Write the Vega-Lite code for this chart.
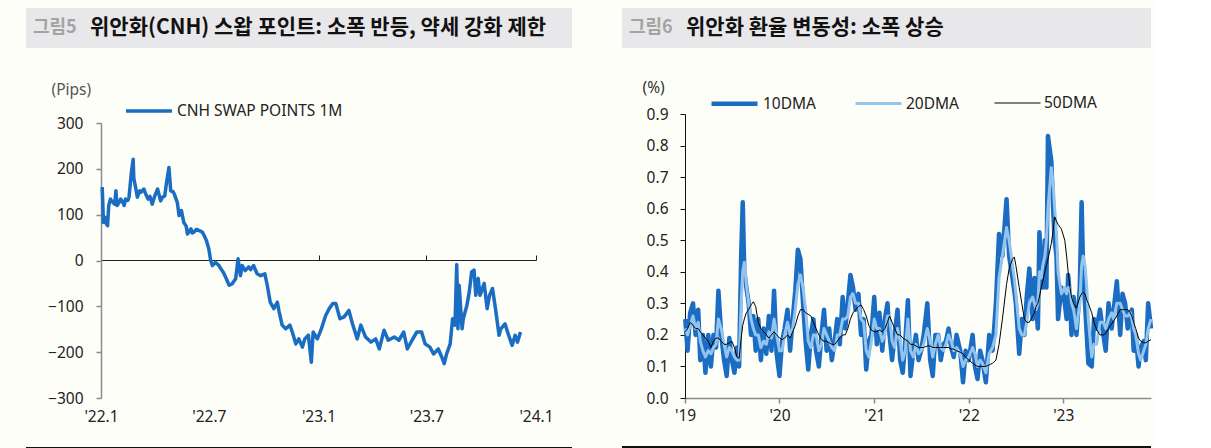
{
  "$schema": "https://vega.github.io/schema/vega-lite/v6.json",
  "background": "#fefef8",
  "padding": {"left": 26, "top": 8, "right": 0, "bottom": 0},
  "config": {
    "view": {"stroke": null},
    "font": "Noto Sans",
    "axis": {"labelFont": "Noto Sans", "labelFontSize": 15.5, "labelColor": "#222222", "grid": false, "titleFont": "Noto Sans", "titleFontWeight": "normal"},
    "legend": {"labelFont": "Noto Sans", "labelColor": "#222222", "labelLimit": 300}
  },
  "datasets": {
    "cnh": [
      {"d": "2022-01-03", "v": 160}, {"d": "2022-01-04", "v": 127}, {"d": "2022-01-05", "v": 83}, {"d": "2022-01-07", "v": 95},
      {"d": "2022-01-10", "v": 80}, {"d": "2022-01-12", "v": 76}, {"d": "2022-01-14", "v": 120}, {"d": "2022-01-17", "v": 134},
      {"d": "2022-01-20", "v": 128}, {"d": "2022-01-24", "v": 123}, {"d": "2022-01-26", "v": 152}, {"d": "2022-01-28", "v": 120},
      {"d": "2022-02-01", "v": 128}, {"d": "2022-02-03", "v": 134}, {"d": "2022-02-07", "v": 126}, {"d": "2022-02-09", "v": 120},
      {"d": "2022-02-11", "v": 134}, {"d": "2022-02-15", "v": 131}, {"d": "2022-02-17", "v": 138}, {"d": "2022-02-21", "v": 192},
      {"d": "2022-02-24", "v": 221}, {"d": "2022-02-25", "v": 180}, {"d": "2022-02-28", "v": 160}, {"d": "2022-03-03", "v": 138},
      {"d": "2022-03-07", "v": 152}, {"d": "2022-03-09", "v": 149}, {"d": "2022-03-14", "v": 156}, {"d": "2022-03-17", "v": 145},
      {"d": "2022-03-21", "v": 134}, {"d": "2022-03-24", "v": 140}, {"d": "2022-03-28", "v": 123}, {"d": "2022-04-01", "v": 140},
      {"d": "2022-04-06", "v": 156}, {"d": "2022-04-11", "v": 130}, {"d": "2022-04-14", "v": 138}, {"d": "2022-04-18", "v": 141},
      {"d": "2022-04-21", "v": 170}, {"d": "2022-04-25", "v": 203}, {"d": "2022-04-28", "v": 152}, {"d": "2022-05-02", "v": 150},
      {"d": "2022-05-04", "v": 145}, {"d": "2022-05-09", "v": 127}, {"d": "2022-05-12", "v": 98}, {"d": "2022-05-16", "v": 109},
      {"d": "2022-05-18", "v": 95}, {"d": "2022-05-20", "v": 83}, {"d": "2022-05-24", "v": 75}, {"d": "2022-05-26", "v": 58},
      {"d": "2022-06-01", "v": 69}, {"d": "2022-06-03", "v": 60}, {"d": "2022-06-06", "v": 62}, {"d": "2022-06-10", "v": 68},
      {"d": "2022-06-15", "v": 65}, {"d": "2022-06-20", "v": 62}, {"d": "2022-06-23", "v": 55}, {"d": "2022-06-27", "v": 43},
      {"d": "2022-07-01", "v": 25}, {"d": "2022-07-04", "v": 0}, {"d": "2022-07-07", "v": -11}, {"d": "2022-07-12", "v": -4},
      {"d": "2022-07-18", "v": -11}, {"d": "2022-07-21", "v": -18}, {"d": "2022-07-25", "v": -25}, {"d": "2022-07-29", "v": -36},
      {"d": "2022-08-04", "v": -54}, {"d": "2022-08-09", "v": -51}, {"d": "2022-08-15", "v": -40}, {"d": "2022-08-19", "v": 4},
      {"d": "2022-08-23", "v": -33}, {"d": "2022-08-26", "v": -11}, {"d": "2022-08-31", "v": -22}, {"d": "2022-09-06", "v": -14},
      {"d": "2022-09-09", "v": -20}, {"d": "2022-09-14", "v": -11}, {"d": "2022-09-20", "v": -29}, {"d": "2022-09-26", "v": -33},
      {"d": "2022-10-03", "v": -29}, {"d": "2022-10-07", "v": -54}, {"d": "2022-10-12", "v": -91}, {"d": "2022-10-18", "v": -105},
      {"d": "2022-10-24", "v": -91}, {"d": "2022-10-27", "v": -112}, {"d": "2022-11-01", "v": -141}, {"d": "2022-11-07", "v": -149},
      {"d": "2022-11-14", "v": -141}, {"d": "2022-11-18", "v": -156}, {"d": "2022-11-24", "v": -182}, {"d": "2022-11-29", "v": -171},
      {"d": "2022-12-05", "v": -189}, {"d": "2022-12-09", "v": -171}, {"d": "2022-12-15", "v": -163}, {"d": "2022-12-20", "v": -222},
      {"d": "2022-12-23", "v": -156}, {"d": "2022-12-30", "v": -171}, {"d": "2023-01-05", "v": -152}, {"d": "2023-01-13", "v": -120},
      {"d": "2023-01-19", "v": -105}, {"d": "2023-01-25", "v": -94}, {"d": "2023-01-30", "v": -94}, {"d": "2023-02-06", "v": -127},
      {"d": "2023-02-13", "v": -123}, {"d": "2023-02-21", "v": -109}, {"d": "2023-02-27", "v": -138}, {"d": "2023-03-07", "v": -171},
      {"d": "2023-03-13", "v": -141}, {"d": "2023-03-21", "v": -167}, {"d": "2023-03-30", "v": -178}, {"d": "2023-04-07", "v": -171},
      {"d": "2023-04-13", "v": -193}, {"d": "2023-04-21", "v": -152}, {"d": "2023-04-28", "v": -174}, {"d": "2023-05-08", "v": -167},
      {"d": "2023-05-16", "v": -174}, {"d": "2023-05-24", "v": -156}, {"d": "2023-05-30", "v": -193}, {"d": "2023-06-07", "v": -174},
      {"d": "2023-06-15", "v": -156}, {"d": "2023-06-23", "v": -156}, {"d": "2023-06-29", "v": -182}, {"d": "2023-07-07", "v": -189},
      {"d": "2023-07-13", "v": -204}, {"d": "2023-07-21", "v": -193}, {"d": "2023-07-27", "v": -211}, {"d": "2023-07-31", "v": -225},
      {"d": "2023-08-04", "v": -204}, {"d": "2023-08-10", "v": -182}, {"d": "2023-08-14", "v": -127}, {"d": "2023-08-18", "v": -141},
      {"d": "2023-08-21", "v": -9}, {"d": "2023-08-23", "v": -149}, {"d": "2023-08-25", "v": -54}, {"d": "2023-08-30", "v": -149},
      {"d": "2023-09-01", "v": -127}, {"d": "2023-09-07", "v": -98}, {"d": "2023-09-11", "v": -69}, {"d": "2023-09-15", "v": -25},
      {"d": "2023-09-19", "v": -21}, {"d": "2023-09-22", "v": -76}, {"d": "2023-09-26", "v": -39}, {"d": "2023-09-29", "v": -76},
      {"d": "2023-10-06", "v": -50}, {"d": "2023-10-11", "v": -105}, {"d": "2023-10-15", "v": -76}, {"d": "2023-10-20", "v": -61},
      {"d": "2023-10-25", "v": -105}, {"d": "2023-10-31", "v": -163}, {"d": "2023-11-03", "v": -149}, {"d": "2023-11-10", "v": -138},
      {"d": "2023-11-16", "v": -163}, {"d": "2023-11-22", "v": -185}, {"d": "2023-11-27", "v": -163}, {"d": "2023-12-01", "v": -178},
      {"d": "2023-12-06", "v": -156}
    ],
    "vol": [
      {"d": "2019-01-02", "10DMA": 0.25, "20DMA": 0.22, "50DMA": 0.21},
      {"d": "2019-01-11", "10DMA": 0.15, "20DMA": 0.2, "50DMA": 0.22},
      {"d": "2019-01-21", "10DMA": 0.27, "20DMA": 0.23, "50DMA": 0.24},
      {"d": "2019-02-01", "10DMA": 0.3, "20DMA": 0.26, "50DMA": 0.23},
      {"d": "2019-02-11", "10DMA": 0.2, "20DMA": 0.22, "50DMA": 0.22},
      {"d": "2019-02-21", "10DMA": 0.28, "20DMA": 0.24, "50DMA": 0.22},
      {"d": "2019-03-01", "10DMA": 0.12, "20DMA": 0.18, "50DMA": 0.21},
      {"d": "2019-03-11", "10DMA": 0.2, "20DMA": 0.15, "50DMA": 0.2},
      {"d": "2019-03-21", "10DMA": 0.08, "20DMA": 0.13, "50DMA": 0.19},
      {"d": "2019-04-01", "10DMA": 0.2, "20DMA": 0.15, "50DMA": 0.18},
      {"d": "2019-04-11", "10DMA": 0.1, "20DMA": 0.14, "50DMA": 0.16},
      {"d": "2019-04-21", "10DMA": 0.2, "20DMA": 0.16, "50DMA": 0.18},
      {"d": "2019-05-01", "10DMA": 0.16, "20DMA": 0.17, "50DMA": 0.19},
      {"d": "2019-05-10", "10DMA": 0.34, "20DMA": 0.25, "50DMA": 0.19},
      {"d": "2019-05-21", "10DMA": 0.2, "20DMA": 0.22, "50DMA": 0.18},
      {"d": "2019-06-01", "10DMA": 0.12, "20DMA": 0.17, "50DMA": 0.17},
      {"d": "2019-06-11", "10DMA": 0.07, "20DMA": 0.13, "50DMA": 0.17},
      {"d": "2019-06-21", "10DMA": 0.19, "20DMA": 0.16, "50DMA": 0.175},
      {"d": "2019-07-01", "10DMA": 0.12, "20DMA": 0.15, "50DMA": 0.18},
      {"d": "2019-07-11", "10DMA": 0.08, "20DMA": 0.13, "50DMA": 0.16},
      {"d": "2019-07-21", "10DMA": 0.16, "20DMA": 0.12, "50DMA": 0.13},
      {"d": "2019-07-29", "10DMA": 0.1, "20DMA": 0.12, "50DMA": 0.125},
      {"d": "2019-08-06", "10DMA": 0.45, "20DMA": 0.3, "50DMA": 0.19},
      {"d": "2019-08-12", "10DMA": 0.62, "20DMA": 0.4, "50DMA": 0.23},
      {"d": "2019-08-18", "10DMA": 0.4, "20DMA": 0.43, "50DMA": 0.25},
      {"d": "2019-08-26", "10DMA": 0.35, "20DMA": 0.36, "50DMA": 0.27},
      {"d": "2019-09-04", "10DMA": 0.3, "20DMA": 0.3, "50DMA": 0.28},
      {"d": "2019-09-13", "10DMA": 0.2, "20DMA": 0.25, "50DMA": 0.295},
      {"d": "2019-09-22", "10DMA": 0.26, "20DMA": 0.22, "50DMA": 0.305},
      {"d": "2019-10-01", "10DMA": 0.15, "20DMA": 0.2, "50DMA": 0.29},
      {"d": "2019-10-11", "10DMA": 0.25, "20DMA": 0.2, "50DMA": 0.24},
      {"d": "2019-10-21", "10DMA": 0.12, "20DMA": 0.16, "50DMA": 0.22},
      {"d": "2019-11-01", "10DMA": 0.22, "20DMA": 0.18, "50DMA": 0.21},
      {"d": "2019-11-11", "10DMA": 0.14, "20DMA": 0.17, "50DMA": 0.2},
      {"d": "2019-11-21", "10DMA": 0.26, "20DMA": 0.21, "50DMA": 0.19},
      {"d": "2019-12-01", "10DMA": 0.15, "20DMA": 0.19, "50DMA": 0.2},
      {"d": "2019-12-11", "10DMA": 0.34, "20DMA": 0.25, "50DMA": 0.21},
      {"d": "2019-12-21", "10DMA": 0.14, "20DMA": 0.2, "50DMA": 0.2},
      {"d": "2020-01-01", "10DMA": 0.07, "20DMA": 0.15, "50DMA": 0.19},
      {"d": "2020-01-11", "10DMA": 0.18, "20DMA": 0.15, "50DMA": 0.185},
      {"d": "2020-01-21", "10DMA": 0.22, "20DMA": 0.2, "50DMA": 0.19},
      {"d": "2020-02-01", "10DMA": 0.28, "20DMA": 0.24, "50DMA": 0.2},
      {"d": "2020-02-11", "10DMA": 0.15, "20DMA": 0.2, "50DMA": 0.19},
      {"d": "2020-02-21", "10DMA": 0.25, "20DMA": 0.22, "50DMA": 0.21},
      {"d": "2020-03-02", "10DMA": 0.34, "20DMA": 0.28, "50DMA": 0.23},
      {"d": "2020-03-12", "10DMA": 0.47, "20DMA": 0.36, "50DMA": 0.26},
      {"d": "2020-03-22", "10DMA": 0.44, "20DMA": 0.39, "50DMA": 0.28},
      {"d": "2020-04-01", "10DMA": 0.3, "20DMA": 0.35, "50DMA": 0.28},
      {"d": "2020-04-11", "10DMA": 0.18, "20DMA": 0.28, "50DMA": 0.27},
      {"d": "2020-04-21", "10DMA": 0.09, "20DMA": 0.18, "50DMA": 0.265},
      {"d": "2020-05-01", "10DMA": 0.2, "20DMA": 0.16, "50DMA": 0.26},
      {"d": "2020-05-11", "10DMA": 0.25, "20DMA": 0.2, "50DMA": 0.24},
      {"d": "2020-05-21", "10DMA": 0.15, "20DMA": 0.2, "50DMA": 0.22},
      {"d": "2020-06-01", "10DMA": 0.1, "20DMA": 0.15, "50DMA": 0.2},
      {"d": "2020-06-11", "10DMA": 0.2, "20DMA": 0.17, "50DMA": 0.185},
      {"d": "2020-06-21", "10DMA": 0.28, "20DMA": 0.22, "50DMA": 0.18},
      {"d": "2020-07-01", "10DMA": 0.15, "20DMA": 0.2, "50DMA": 0.18},
      {"d": "2020-07-11", "10DMA": 0.22, "20DMA": 0.18, "50DMA": 0.175},
      {"d": "2020-07-21", "10DMA": 0.12, "20DMA": 0.16, "50DMA": 0.17},
      {"d": "2020-08-01", "10DMA": 0.18, "20DMA": 0.15, "50DMA": 0.17},
      {"d": "2020-08-11", "10DMA": 0.25, "20DMA": 0.2, "50DMA": 0.18},
      {"d": "2020-08-21", "10DMA": 0.17, "20DMA": 0.2, "50DMA": 0.19},
      {"d": "2020-09-01", "10DMA": 0.32, "20DMA": 0.25, "50DMA": 0.2},
      {"d": "2020-09-11", "10DMA": 0.22, "20DMA": 0.25, "50DMA": 0.2},
      {"d": "2020-09-21", "10DMA": 0.3, "20DMA": 0.26, "50DMA": 0.22},
      {"d": "2020-10-01", "10DMA": 0.39, "20DMA": 0.32, "50DMA": 0.25},
      {"d": "2020-10-11", "10DMA": 0.35, "20DMA": 0.33, "50DMA": 0.27},
      {"d": "2020-10-21", "10DMA": 0.28, "20DMA": 0.3, "50DMA": 0.28},
      {"d": "2020-11-01", "10DMA": 0.33, "20DMA": 0.3, "50DMA": 0.29},
      {"d": "2020-11-11", "10DMA": 0.2, "20DMA": 0.25, "50DMA": 0.295},
      {"d": "2020-11-21", "10DMA": 0.25, "20DMA": 0.24, "50DMA": 0.28},
      {"d": "2020-12-01", "10DMA": 0.09, "20DMA": 0.15, "50DMA": 0.26},
      {"d": "2020-12-11", "10DMA": 0.18, "20DMA": 0.13, "50DMA": 0.23},
      {"d": "2020-12-21", "10DMA": 0.2, "20DMA": 0.18, "50DMA": 0.215},
      {"d": "2021-01-01", "10DMA": 0.32, "20DMA": 0.25, "50DMA": 0.21},
      {"d": "2021-01-11", "10DMA": 0.17, "20DMA": 0.22, "50DMA": 0.21},
      {"d": "2021-01-21", "10DMA": 0.27, "20DMA": 0.22, "50DMA": 0.215},
      {"d": "2021-02-01", "10DMA": 0.15, "20DMA": 0.18, "50DMA": 0.21},
      {"d": "2021-02-11", "10DMA": 0.25, "20DMA": 0.2, "50DMA": 0.22},
      {"d": "2021-02-21", "10DMA": 0.3, "20DMA": 0.26, "50DMA": 0.24},
      {"d": "2021-03-01", "10DMA": 0.2, "20DMA": 0.26, "50DMA": 0.26},
      {"d": "2021-03-11", "10DMA": 0.12, "20DMA": 0.18, "50DMA": 0.24},
      {"d": "2021-03-21", "10DMA": 0.2, "20DMA": 0.16, "50DMA": 0.22},
      {"d": "2021-04-01", "10DMA": 0.28, "20DMA": 0.22, "50DMA": 0.2},
      {"d": "2021-04-11", "10DMA": 0.12, "20DMA": 0.18, "50DMA": 0.2},
      {"d": "2021-04-21", "10DMA": 0.08, "20DMA": 0.12, "50DMA": 0.19},
      {"d": "2021-05-01", "10DMA": 0.18, "20DMA": 0.15, "50DMA": 0.185},
      {"d": "2021-05-11", "10DMA": 0.31, "20DMA": 0.25, "50DMA": 0.18},
      {"d": "2021-05-21", "10DMA": 0.07, "20DMA": 0.15, "50DMA": 0.17},
      {"d": "2021-06-01", "10DMA": 0.15, "20DMA": 0.13, "50DMA": 0.17},
      {"d": "2021-06-11", "10DMA": 0.2, "20DMA": 0.17, "50DMA": 0.165},
      {"d": "2021-06-21", "10DMA": 0.12, "20DMA": 0.14, "50DMA": 0.16},
      {"d": "2021-07-01", "10DMA": 0.15, "20DMA": 0.15, "50DMA": 0.16},
      {"d": "2021-07-11", "10DMA": 0.2, "20DMA": 0.17, "50DMA": 0.16},
      {"d": "2021-07-25", "10DMA": 0.3, "20DMA": 0.22, "50DMA": 0.165},
      {"d": "2021-08-05", "10DMA": 0.12, "20DMA": 0.18, "50DMA": 0.165},
      {"d": "2021-08-15", "10DMA": 0.07, "20DMA": 0.13, "50DMA": 0.16},
      {"d": "2021-08-25", "10DMA": 0.2, "20DMA": 0.17, "50DMA": 0.16},
      {"d": "2021-09-05", "10DMA": 0.2, "20DMA": 0.2, "50DMA": 0.16},
      {"d": "2021-09-15", "10DMA": 0.12, "20DMA": 0.16, "50DMA": 0.16},
      {"d": "2021-09-25", "10DMA": 0.17, "20DMA": 0.15, "50DMA": 0.16},
      {"d": "2021-10-05", "10DMA": 0.18, "20DMA": 0.17, "50DMA": 0.16},
      {"d": "2021-10-15", "10DMA": 0.22, "20DMA": 0.2, "50DMA": 0.16},
      {"d": "2021-10-25", "10DMA": 0.16, "20DMA": 0.18, "50DMA": 0.155},
      {"d": "2021-11-04", "10DMA": 0.13, "20DMA": 0.15, "50DMA": 0.155},
      {"d": "2021-11-15", "10DMA": 0.2, "20DMA": 0.16, "50DMA": 0.15},
      {"d": "2021-11-29", "10DMA": 0.15, "20DMA": 0.14, "50DMA": 0.145},
      {"d": "2021-12-10", "10DMA": 0.05, "20DMA": 0.1, "50DMA": 0.14},
      {"d": "2021-12-20", "10DMA": 0.15, "20DMA": 0.12, "50DMA": 0.13},
      {"d": "2022-01-01", "10DMA": 0.12, "20DMA": 0.13, "50DMA": 0.12},
      {"d": "2022-01-16", "10DMA": 0.2, "20DMA": 0.16, "50DMA": 0.11},
      {"d": "2022-01-25", "10DMA": 0.1, "20DMA": 0.14, "50DMA": 0.105},
      {"d": "2022-02-04", "10DMA": 0.06, "20DMA": 0.1, "50DMA": 0.1},
      {"d": "2022-02-14", "10DMA": 0.15, "20DMA": 0.12, "50DMA": 0.1},
      {"d": "2022-02-23", "10DMA": 0.12, "20DMA": 0.11, "50DMA": 0.1},
      {"d": "2022-03-08", "10DMA": 0.05, "20DMA": 0.08, "50DMA": 0.1},
      {"d": "2022-03-21", "10DMA": 0.2, "20DMA": 0.14, "50DMA": 0.105},
      {"d": "2022-04-03", "10DMA": 0.15, "20DMA": 0.16, "50DMA": 0.11},
      {"d": "2022-04-16", "10DMA": 0.3, "20DMA": 0.2, "50DMA": 0.12},
      {"d": "2022-04-28", "10DMA": 0.52, "20DMA": 0.38, "50DMA": 0.17},
      {"d": "2022-05-11", "10DMA": 0.45, "20DMA": 0.45, "50DMA": 0.25},
      {"d": "2022-05-27", "10DMA": 0.63, "20DMA": 0.54, "50DMA": 0.36},
      {"d": "2022-06-06", "10DMA": 0.45, "20DMA": 0.5, "50DMA": 0.41},
      {"d": "2022-06-19", "10DMA": 0.38, "20DMA": 0.42, "50DMA": 0.44},
      {"d": "2022-06-26", "10DMA": 0.34, "20DMA": 0.38, "50DMA": 0.447},
      {"d": "2022-07-02", "10DMA": 0.3, "20DMA": 0.33, "50DMA": 0.42},
      {"d": "2022-07-15", "10DMA": 0.14, "20DMA": 0.22, "50DMA": 0.35},
      {"d": "2022-07-25", "10DMA": 0.25, "20DMA": 0.2, "50DMA": 0.3},
      {"d": "2022-08-04", "10DMA": 0.2, "20DMA": 0.2, "50DMA": 0.25},
      {"d": "2022-08-13", "10DMA": 0.32, "20DMA": 0.24, "50DMA": 0.24},
      {"d": "2022-08-23", "10DMA": 0.41, "20DMA": 0.3, "50DMA": 0.24},
      {"d": "2022-09-05", "10DMA": 0.25, "20DMA": 0.32, "50DMA": 0.26},
      {"d": "2022-09-12", "10DMA": 0.38, "20DMA": 0.3, "50DMA": 0.27},
      {"d": "2022-09-18", "10DMA": 0.3, "20DMA": 0.28, "50DMA": 0.29},
      {"d": "2022-09-25", "10DMA": 0.22, "20DMA": 0.3, "50DMA": 0.3},
      {"d": "2022-10-01", "10DMA": 0.525, "20DMA": 0.4, "50DMA": 0.32},
      {"d": "2022-10-08", "10DMA": 0.4, "20DMA": 0.38, "50DMA": 0.35},
      {"d": "2022-10-14", "10DMA": 0.35, "20DMA": 0.42, "50DMA": 0.37},
      {"d": "2022-10-22", "10DMA": 0.5, "20DMA": 0.45, "50DMA": 0.4},
      {"d": "2022-10-28", "10DMA": 0.35, "20DMA": 0.5, "50DMA": 0.42},
      {"d": "2022-11-03", "10DMA": 0.83, "20DMA": 0.6, "50DMA": 0.44},
      {"d": "2022-11-16", "10DMA": 0.75, "20DMA": 0.73, "50DMA": 0.49},
      {"d": "2022-11-23", "10DMA": 0.6, "20DMA": 0.68, "50DMA": 0.53},
      {"d": "2022-11-29", "10DMA": 0.5, "20DMA": 0.6, "50DMA": 0.574},
      {"d": "2022-12-06", "10DMA": 0.45, "20DMA": 0.52, "50DMA": 0.56},
      {"d": "2022-12-12", "10DMA": 0.25, "20DMA": 0.4, "50DMA": 0.55},
      {"d": "2022-12-25", "10DMA": 0.35, "20DMA": 0.33, "50DMA": 0.535},
      {"d": "2023-01-07", "10DMA": 0.3, "20DMA": 0.35, "50DMA": 0.5},
      {"d": "2023-01-14", "10DMA": 0.25, "20DMA": 0.33, "50DMA": 0.45},
      {"d": "2023-01-20", "10DMA": 0.39, "20DMA": 0.35, "50DMA": 0.4},
      {"d": "2023-01-27", "10DMA": 0.32, "20DMA": 0.35, "50DMA": 0.35},
      {"d": "2023-02-02", "10DMA": 0.2, "20DMA": 0.3, "50DMA": 0.32},
      {"d": "2023-02-10", "10DMA": 0.32, "20DMA": 0.28, "50DMA": 0.3},
      {"d": "2023-02-21", "10DMA": 0.2, "20DMA": 0.22, "50DMA": 0.285},
      {"d": "2023-03-06", "10DMA": 0.35, "20DMA": 0.3, "50DMA": 0.32},
      {"d": "2023-03-13", "10DMA": 0.62, "20DMA": 0.42, "50DMA": 0.33},
      {"d": "2023-03-19", "10DMA": 0.4, "20DMA": 0.45, "50DMA": 0.335},
      {"d": "2023-03-26", "10DMA": 0.3, "20DMA": 0.42, "50DMA": 0.33},
      {"d": "2023-04-02", "10DMA": 0.2, "20DMA": 0.35, "50DMA": 0.31},
      {"d": "2023-04-08", "10DMA": 0.11, "20DMA": 0.25, "50DMA": 0.3},
      {"d": "2023-04-21", "10DMA": 0.1, "20DMA": 0.13, "50DMA": 0.27},
      {"d": "2023-04-30", "10DMA": 0.25, "20DMA": 0.17, "50DMA": 0.24},
      {"d": "2023-05-10", "10DMA": 0.22, "20DMA": 0.17, "50DMA": 0.217},
      {"d": "2023-05-23", "10DMA": 0.28, "20DMA": 0.24, "50DMA": 0.2},
      {"d": "2023-06-05", "10DMA": 0.2, "20DMA": 0.24, "50DMA": 0.2},
      {"d": "2023-06-14", "10DMA": 0.15, "20DMA": 0.22, "50DMA": 0.205},
      {"d": "2023-06-25", "10DMA": 0.3, "20DMA": 0.25, "50DMA": 0.22},
      {"d": "2023-07-07", "10DMA": 0.22, "20DMA": 0.27, "50DMA": 0.235},
      {"d": "2023-07-15", "10DMA": 0.28, "20DMA": 0.25, "50DMA": 0.245},
      {"d": "2023-07-27", "10DMA": 0.37, "20DMA": 0.3, "50DMA": 0.26},
      {"d": "2023-08-09", "10DMA": 0.2, "20DMA": 0.3, "50DMA": 0.28},
      {"d": "2023-08-18", "10DMA": 0.33, "20DMA": 0.28, "50DMA": 0.28},
      {"d": "2023-08-28", "10DMA": 0.3, "20DMA": 0.26, "50DMA": 0.28},
      {"d": "2023-09-07", "10DMA": 0.22, "20DMA": 0.26, "50DMA": 0.28},
      {"d": "2023-09-17", "10DMA": 0.27, "20DMA": 0.27, "50DMA": 0.27},
      {"d": "2023-09-23", "10DMA": 0.28, "20DMA": 0.25, "50DMA": 0.26},
      {"d": "2023-09-30", "10DMA": 0.15, "20DMA": 0.22, "50DMA": 0.24},
      {"d": "2023-10-08", "10DMA": 0.2, "20DMA": 0.2, "50DMA": 0.22},
      {"d": "2023-10-19", "10DMA": 0.1, "20DMA": 0.14, "50DMA": 0.19},
      {"d": "2023-10-27", "10DMA": 0.16, "20DMA": 0.12, "50DMA": 0.18},
      {"d": "2023-11-08", "10DMA": 0.18, "20DMA": 0.15, "50DMA": 0.175},
      {"d": "2023-11-16", "10DMA": 0.12, "20DMA": 0.17, "50DMA": 0.175},
      {"d": "2023-11-25", "10DMA": 0.3, "20DMA": 0.22, "50DMA": 0.18},
      {"d": "2023-12-06", "10DMA": 0.22, "20DMA": 0.25, "50DMA": 0.185}
    ]
  },
  "spacing": 50,
  "resolve": {
    "scale": {"color": "independent", "strokeWidth": "independent"},
    "legend": {"color": "independent", "strokeWidth": "independent"}
  },
  "hconcat": [
    {
      "spacing": 34,
      "resolve": {"scale": {"color": "independent"}, "legend": {"color": "independent"}},
      "vconcat": [
        {
          "width": 546,
          "height": 40,
          "view": {"fill": "#e8e8ea", "stroke": null},
          "data": {"values": [{"n": "그림5", "t": "위안화(CNH) 스왑 포인트: 소폭 반등, 약세 강화 제한"}]},
          "layer": [
            {
              "mark": {"type": "text", "align": "left", "baseline": "middle", "font": "Noto Sans CJK KR", "fontSize": 18, "fontWeight": "bold", "color": "#a3a3a3"},
              "encoding": {"text": {"field": "n"}, "x": {"value": 7}, "y": {"value": 20}}
            },
            {
              "mark": {"type": "text", "align": "left", "baseline": "middle", "font": "Noto Sans CJK KR", "fontSize": 21, "fontWeight": "bold", "color": "#111111"},
              "encoding": {"text": {"field": "t"}, "x": {"value": 64}, "y": {"value": 20}}
            }
          ]
        },
        {
          "spacing": 17,
          "resolve": {"scale": {"color": "independent"}, "legend": {"color": "independent"}},
          "vconcat": [
            {
              "spacing": 0,
              "resolve": {"scale": {"color": "independent"}, "legend": {"color": "independent"}},
              "hconcat": [
                {
                  "width": 21,
                  "height": 2,
                  "data": {"values": [{}]},
                  "mark": {"type": "text", "text": ""},
                  "encoding": {}
                },
                {
                  "width": 435,
                  "height": 275,
                  "data": {"name": "cnh"},
                  "layer": [
                    {
                      "mark": {"type": "line", "strokeWidth": 3.5, "strokeJoin": "round"},
                      "encoding": {
                        "x": {
                          "field": "d", "type": "temporal",
                          "scale": {"type": "utc", "nice": false, "domain": [{"year": 2022, "month": 1, "date": 1, "utc": true}, {"year": 2024, "month": 1, "date": 1, "utc": true}]},
                          "axis": {"format": "'%y.%-m", "tickCount": {"interval": "month", "step": 6}, "domain": false, "ticks": false, "labelPadding": 11, "labelFlush": false, "title": null}
                        },
                        "y": {
                          "field": "v", "type": "quantitative",
                          "scale": {"domain": [-300, 300], "nice": false},
                          "axis": {
                            "values": [-300, -200, -100, 0, 100, 200, 300],
                            "domainColor": "#8a8a8a", "domainWidth": 1.5, "tickColor": "#8a8a8a", "tickWidth": 1.5, "tickSize": 5, "labelPadding": 13,
                            "title": "(Pips)", "titleAngle": 0, "titleX": -50, "titleY": -34, "titleAlign": "left", "titleBaseline": "middle", "titleColor": "#555555", "titleFontSize": 15.5
                          }
                        },
                        "color": {
                          "datum": "CNH SWAP POINTS 1M",
                          "scale": {"range": ["#1a6dc2"]},
                          "legend": {"orient": "none", "legendX": 23, "legendY": -37, "title": null, "direction": "horizontal", "symbolType": "stroke", "symbolSize": 2116, "symbolStrokeWidth": 3.5, "labelFontSize": 15.5, "labelOffset": 3}
                        }
                      }
                    },
                    {
                      "mark": {"type": "line", "opacity": 0},
                      "encoding": {
                        "x": {
                          "field": "d", "type": "temporal",
                          "axis": {"offset": -137, "labels": false, "domainColor": "#222222", "domainWidth": 1, "tickColor": "#222222", "tickSize": 5, "tickCount": {"interval": "month", "step": 6}, "title": null}
                        },
                        "y": {"field": "v", "type": "quantitative"}
                      }
                    }
                  ],
                  "resolve": {"axis": {"x": "independent"}}
                }
              ]
            },
            {
              "width": 546,
              "height": 2,
              "view": {"fill": "#111111", "stroke": null},
              "data": {"values": [{}]},
              "mark": {"type": "text", "text": ""},
              "encoding": {}
            }
          ]
        }
      ]
    },
    {
      "spacing": 30,
      "resolve": {"scale": {"color": "independent", "strokeWidth": "independent"}, "legend": {"color": "independent", "strokeWidth": "independent"}},
      "vconcat": [
        {
          "width": 529,
          "height": 40,
          "view": {"fill": "#e8e8ea", "stroke": null},
          "data": {"values": [{"n": "그림6", "t": "위안화 환율 변동성: 소폭 상승"}]},
          "layer": [
            {
              "mark": {"type": "text", "align": "left", "baseline": "middle", "font": "Noto Sans CJK KR", "fontSize": 18, "fontWeight": "bold", "color": "#a3a3a3"},
              "encoding": {"text": {"field": "n"}, "x": {"value": 7}, "y": {"value": 20}}
            },
            {
              "mark": {"type": "text", "align": "left", "baseline": "middle", "font": "Noto Sans CJK KR", "fontSize": 21, "fontWeight": "bold", "color": "#111111"},
              "encoding": {"text": {"field": "t"}, "x": {"value": 64}, "y": {"value": 20}}
            }
          ]
        },
        {
          "spacing": 17,
          "resolve": {"scale": {"color": "independent", "strokeWidth": "independent"}, "legend": {"color": "independent", "strokeWidth": "independent"}},
          "vconcat": [
            {
              "spacing": 0,
              "resolve": {"scale": {"color": "independent", "strokeWidth": "independent"}, "legend": {"color": "independent", "strokeWidth": "independent"}},
              "hconcat": [
                {
                  "width": 20,
                  "height": 2,
                  "data": {"values": [{}]},
                  "mark": {"type": "text", "text": ""},
                  "encoding": {}
                },
                {
                  "width": 466,
                  "height": 284,
                  "data": {"name": "vol"},
                  "transform": [{"fold": ["10DMA", "20DMA", "50DMA"], "as": ["s", "v"]}],
                  "mark": {"type": "line", "strokeJoin": "round"},
                  "encoding": {
                    "x": {
                      "field": "d", "type": "temporal",
                      "scale": {"type": "utc", "nice": false, "domain": [{"year": 2019, "month": 1, "date": 1, "utc": true}, {"year": 2023, "month": 12, "date": 6, "utc": true}]},
                      "axis": {"format": "'%y", "tickCount": {"interval": "year", "step": 1}, "domainColor": "#8a8a8a", "domainWidth": 1.5, "tickColor": "#8a8a8a", "tickWidth": 1.5, "tickSize": 5, "labelPadding": 5, "labelFlush": false, "title": null}
                    },
                    "y": {
                      "field": "v", "type": "quantitative",
                      "scale": {"domain": [0, 0.9], "nice": false},
                      "axis": {
                        "values": [0, 0.1, 0.2, 0.3, 0.4, 0.5, 0.6, 0.7, 0.8, 0.9], "format": ".1f",
                        "domainColor": "#111111", "tickColor": "#111111", "tickSize": 5, "labelPadding": 12,
                        "title": "(%)", "titleAngle": 0, "titleX": -43, "titleY": -27, "titleAlign": "left", "titleBaseline": "middle", "titleColor": "#333333", "titleFontSize": 15.5
                      }
                    },
                    "color": {
                      "field": "s", "type": "nominal",
                      "scale": {"domain": ["10DMA", "20DMA", "50DMA"], "range": ["#1a6dc2", "#93c4ee", "#000000"]},
                      "legend": {
                        "orient": "none", "legendX": 24, "legendY": -36, "title": null, "direction": "horizontal",
                        "symbolType": "stroke", "symbolSize": 2116, "labelFontSize": 15.5, "labelOffset": 3, "columnPadding": 32,
                        "encode": {"symbols": {"update": {"strokeWidth": {"signal": "datum.value === '10DMA' ? 4.5 : datum.value === '20DMA' ? 3 : 1"}}}}
                      }
                    },
                    "strokeWidth": {
                      "field": "s", "type": "nominal",
                      "scale": {"type": "ordinal", "domain": ["10DMA", "20DMA", "50DMA"], "range": [4.5, 3, 1]},
                      "legend": null
                    }
                  }
                }
              ]
            },
            {
              "width": 529,
              "height": 2,
              "view": {"fill": "#111111", "stroke": null},
              "data": {"values": [{}]},
              "mark": {"type": "text", "text": ""},
              "encoding": {}
            }
          ]
        }
      ]
    }
  ]
}
